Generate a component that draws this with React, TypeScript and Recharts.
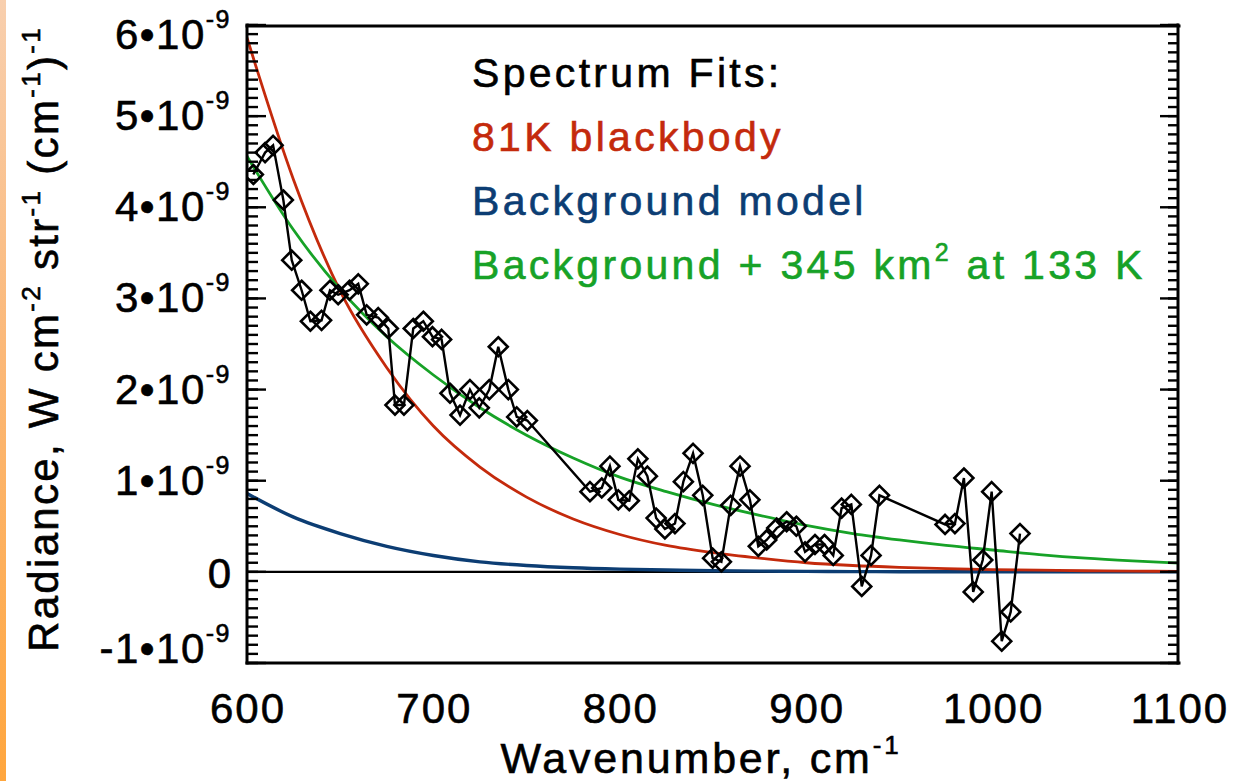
import React from 'react';
import { ComposedChart, Line, XAxis, YAxis, Legend } from 'recharts';

// ---- measured spectrum (units of 1e-9 W cm^-2 str^-1 (cm^-1)^-1) ----
const wavenumbers = [
  603.4, 609.7, 614.0, 619.5, 624.0, 629.3, 634.0, 640.0, 644.5, 648.9,
  655.0, 659.7, 664.2, 670.4, 675.8, 679.4, 684.2, 689.2, 694.6, 699.5,
  704.4, 708.9, 714.3, 719.6, 724.6, 730.0, 734.8, 740.2, 744.7, 750.4,
  784.0, 790.3, 794.7, 799.2, 805.1, 809.7, 814.8, 819.5, 824.2, 829.6,
  834.1, 839.3, 844.5, 849.8, 854.5, 859.5, 864.5, 869.8, 874.3, 878.8,
  884.2, 889.5, 894.7, 899.4, 904.7, 909.8, 914.5, 919.0, 924.2, 929.8,
  934.8, 939.3, 974.5, 979.8, 984.6, 989.6, 994.7, 999.5, 1004.9, 1009.7,
  1014.7,
];
const radiance = [
  4.36, 4.60, 4.68, 4.08, 3.42, 3.09, 2.75, 2.76, 3.09, 3.04,
  3.09, 3.16, 2.82, 2.79, 2.67, 1.83, 1.83, 2.67, 2.75, 2.58,
  2.55, 1.96, 1.72, 2.00, 1.80, 2.00, 2.47, 2.00, 1.70, 1.66,
  0.88, 0.92, 1.16, 0.79, 0.78, 1.24, 1.05, 0.59, 0.47, 0.53,
  0.99, 1.30, 0.84, 0.15, 0.11, 0.73, 1.16, 0.79, 0.28, 0.35,
  0.48, 0.55, 0.50, 0.22, 0.30, 0.30, 0.18, 0.70, 0.74, -0.16,
  0.18, 0.84, 0.52, 0.53, 1.03, -0.22, 0.13, 0.88, -0.76, -0.44,
  0.42,
];

// ---- fit curves ----
const curveWavenumbers = [
  600, 625, 650, 675, 700, 725, 750, 775, 800, 825, 850,
  875, 900, 925, 950, 975, 1000, 1025, 1050, 1075, 1100,
];
const blackbody81K = [
  5.86, 4.30, 3.08, 2.24, 1.60, 1.15, 0.82, 0.58, 0.41, 0.29, 0.21,
  0.15, 0.10, 0.07, 0.05, 0.035, 0.025, 0.018, 0.012, 0.008, 0.006,
];
const backgroundModel = [
  0.86, 0.60, 0.42, 0.28, 0.18, 0.11, 0.07, 0.045, 0.03, 0.02, 0.012,
  0.008, 0.005, 0.003, 0.002, 0.001, 0.001, 0.0, 0.0, 0.0, 0.0,
];
const backgroundPlusHot = [
  4.56, 3.75, 3.10, 2.58, 2.16, 1.80, 1.50, 1.25, 1.04, 0.88, 0.74,
  0.62, 0.51, 0.42, 0.35, 0.29, 0.24, 0.19, 0.15, 0.12, 0.095,
];
const zeroLineX = [600, 1100];
const zeroLineY = [0, 0];

// ---- axes ----
const xMajorTicks = [600, 700, 800, 900, 1000, 1100];
const xMinorTicks = Array.from({ length: 51 }, (_, i) => 600 + i * 10);
const yMajorTicks = [-1, 0, 1, 2, 3, 4, 5, 6];
const yMinorTicks = Array.from({ length: 71 }, (_, i) => Math.round((-1 + i * 0.1) * 10) / 10);

const legendTitle = 'Spectrum Fits:';
const legendLabels = ['81K blackbody', 'Background model', 'Background + 345 km', '2', ' at 133 K'];

const RED = '#c42a0c';
const BLUE = '#0c3d73';
const GREEN = '#17a227';
const FONT = '"Liberation Sans", Arial, Helvetica, sans-serif';
const BOLDEN = 0.6;

const spectrum = wavenumbers.map((x, i) => ({ x, y: radiance[i] }));
const bbData = curveWavenumbers.map((x, i) => ({ x, y: blackbody81K[i] }));
const bgData = curveWavenumbers.map((x, i) => ({ x, y: backgroundModel[i] }));
const fitData = curveWavenumbers.map((x, i) => ({ x, y: backgroundPlusHot[i] }));
const zeroData = zeroLineX.map((x, i) => ({ x, y: zeroLineY[i] }));

const EmptyTick = () => <g />;

const Diamond = (p: any) => {
  const { cx, cy, index } = p;
  if (cx == null || cy == null) return <g key={`d${index}`} />;
  const r = 9.5;
  return (
    <polygon
      key={`d${index}`}
      points={`${cx},${cy - r} ${cx + r},${cy} ${cx},${cy + r} ${cx - r},${cy}`}
      fill="none"
      stroke="#000"
      strokeWidth={2.6}
    />
  );
};

const XTick = (p: any) => {
  const { x, y, payload } = p;
  return (
    <text x={x + 1} y={y + 60} textAnchor="middle" fontSize={42} fontFamily={FONT} fill="#000" stroke="#000" strokeWidth={BOLDEN} letterSpacing={2}>
      {payload.value}
    </text>
  );
};

const YTick = (p: any) => {
  const { x, y, payload } = p;
  const v = payload.value;
  let shift = 14;
  if (v === 6) shift = 24;
  if (v === -1) shift = 0;
  if (v === 0) {
    return (
      <text x={x} y={y + 16} textAnchor="end" fontSize={42} fontFamily={FONT} fill="#000" stroke="#000" strokeWidth={BOLDEN}>
        0
      </text>
    );
  }
  return (
    <text x={x} y={y + shift} textAnchor="end" fontSize={42} fontFamily={FONT} fill="#000" stroke="#000" strokeWidth={BOLDEN} letterSpacing={1.5}>
      {`${v}\u202210`}
      <tspan fontSize={25} dy={-21}>-9</tspan>
    </text>
  );
};

const XTitle = (p: any) => {
  const vb = p.viewBox || { x: 247, y: 663, width: 932, height: 118 };
  const cx = vb.x + vb.width / 2 - 12;
  const by = vb.y + 110;
  return (
    <text x={cx} y={by} textAnchor="middle" fontSize={43} fontFamily={FONT} fill="#000" stroke="#000" strokeWidth={BOLDEN} letterSpacing={2.8}>
      Wavenumber, cm
      <tspan fontSize={26} dy={-19}>-1</tspan>
    </text>
  );
};

const YTitle = (p: any) => {
  const vb = p.viewBox || { x: 0, y: 25, width: 247, height: 638 };
  const bx = vb.x + 58;
  const cy = vb.y + vb.height / 2 - 5;
  return (
    <text
      transform={`translate(${bx}, ${cy}) rotate(-90)`}
      x={0}
      y={0}
      textAnchor="middle"
      fontSize={42}
      fontFamily={FONT}
      fill="#000"
      stroke="#000"
      strokeWidth={BOLDEN}
      letterSpacing={2.3}
    >
      Radiance, W cm
      <tspan fontSize={26} dy={-18}>-2</tspan>
      <tspan dy={18}> str</tspan>
      <tspan fontSize={26} dy={-18}>-1</tspan>
      <tspan dy={18}> (cm</tspan>
      <tspan fontSize={26} dy={-18}>-1</tspan>
      <tspan dy={18}>)</tspan>
      <tspan fontSize={26} dy={-18}>-1</tspan>
    </text>
  );
};

const LegendBox = () => (
  <svg width={1251} height={300} style={{ display: 'block' }}>
    <g fontFamily={FONT} fontSize={41} letterSpacing={3.3} strokeWidth={BOLDEN}>
      <text x={472} y={87} fill="#000" stroke="#000">{legendTitle}</text>
      <text x={472} y={151} fill={RED} stroke={RED}>{legendLabels[0]}</text>
      <text x={472} y={215} fill={BLUE} stroke={BLUE}>{legendLabels[1]}</text>
      <text x={472} y={279} fill={GREEN} stroke={GREEN}>
        {legendLabels[2]}
        <tspan fontSize={25} dy={-18}>{legendLabels[3]}</tspan>
        <tspan dy={18}>{legendLabels[4]}</tspan>
      </text>
    </g>
  </svg>
);

const frame = { stroke: '#000', strokeWidth: 3, strokeLinecap: 'square' as const };
const tickStyle = { stroke: '#000', strokeWidth: 2.4 };

export default function App() {
  return (
    <div style={{ position: 'absolute', left: 0, top: 0, width: 1251, height: 781, background: '#fff' }}>
      <div
        style={{
          position: 'absolute',
          left: 0,
          top: 0,
          width: 6,
          height: 781,
          background: 'linear-gradient(#f8cfae, #fbb878 45%, #ffa63e)',
        }}
      />
      <ComposedChart width={1251} height={781} margin={{ top: 25, right: 72, bottom: 0, left: 0 }}>
        {/* main axes with labels */}
        <XAxis
          xAxisId="x"
          dataKey="x"
          type="number"
          orientation="bottom"
          domain={[600, 1100]}
          allowDataOverflow
          ticks={xMajorTicks}
          interval={0}
          height={118}
          tickSize={0}
          tickMargin={0}
          tickLine={false}
          axisLine={frame}
          tick={XTick}
          label={<XTitle />}
        />
        <YAxis
          yAxisId="y"
          type="number"
          orientation="left"
          domain={[-1, 6]}
          allowDataOverflow
          ticks={yMajorTicks}
          interval={0}
          width={247}
          tickSize={0}
          tickMargin={16}
          tickLine={false}
          axisLine={frame}
          tick={YTick}
          label={<YTitle />}
        />
        {/* inward tick marks on all four sides */}
        <XAxis xAxisId="xbMin" type="number" orientation="bottom" mirror height={1} domain={[600, 1100]} allowDataOverflow ticks={xMinorTicks} interval={0} tickSize={7} tick={EmptyTick} tickLine={tickStyle} axisLine={false} />
        <XAxis xAxisId="xbMaj" type="number" orientation="bottom" mirror height={1} domain={[600, 1100]} allowDataOverflow ticks={xMajorTicks} interval={0} tickSize={13} tick={EmptyTick} tickLine={tickStyle} axisLine={false} />
        <XAxis xAxisId="xtMin" type="number" orientation="top" mirror height={1} domain={[600, 1100]} allowDataOverflow ticks={xMinorTicks} interval={0} tickSize={7} tick={EmptyTick} tickLine={tickStyle} axisLine={frame} />
        <XAxis xAxisId="xtMaj" type="number" orientation="top" mirror height={1} domain={[600, 1100]} allowDataOverflow ticks={xMajorTicks} interval={0} tickSize={13} tick={EmptyTick} tickLine={tickStyle} axisLine={false} />
        <YAxis yAxisId="ylMin" type="number" orientation="left" mirror width={1} domain={[-1, 6]} allowDataOverflow ticks={yMinorTicks} interval={0} tickSize={10} tick={EmptyTick} tickLine={tickStyle} axisLine={false} />
        <YAxis yAxisId="ylMaj" type="number" orientation="left" mirror width={1} domain={[-1, 6]} allowDataOverflow ticks={yMajorTicks} interval={0} tickSize={19} tick={EmptyTick} tickLine={tickStyle} axisLine={false} />
        <YAxis yAxisId="yrMin" type="number" orientation="right" mirror width={1} domain={[-1, 6]} allowDataOverflow ticks={yMinorTicks} interval={0} tickSize={10} tick={EmptyTick} tickLine={tickStyle} axisLine={frame} />
        <YAxis yAxisId="yrMaj" type="number" orientation="right" mirror width={1} domain={[-1, 6]} allowDataOverflow ticks={yMajorTicks} interval={0} tickSize={19} tick={EmptyTick} tickLine={tickStyle} axisLine={false} />

        <Line xAxisId="x" yAxisId="y" data={zeroData} dataKey="y" type="linear" stroke="#000" strokeWidth={2.4} dot={false} activeDot={false} isAnimationActive={false} />
        <Line xAxisId="x" yAxisId="y" data={bgData} dataKey="y" type="monotone" stroke={BLUE} strokeWidth={3.4} dot={false} activeDot={false} isAnimationActive={false} />
        <Line xAxisId="x" yAxisId="y" data={bbData} dataKey="y" type="monotone" stroke={RED} strokeWidth={2.8} dot={false} activeDot={false} isAnimationActive={false} />
        <Line xAxisId="x" yAxisId="y" data={fitData} dataKey="y" type="monotone" stroke={GREEN} strokeWidth={2.8} dot={false} activeDot={false} isAnimationActive={false} />
        <Line xAxisId="x" yAxisId="y" data={spectrum} dataKey="y" type="linear" stroke="#000" strokeWidth={2.4} dot={Diamond} activeDot={false} isAnimationActive={false} />

        <Legend
          layout="vertical"
          align="center"
          verticalAlign="middle"
          content={<LegendBox />}
          wrapperStyle={{ position: 'absolute', left: 0, top: 0, width: 1251, height: 300, pointerEvents: 'none' }}
        />
      </ComposedChart>
    </div>
  );
}
